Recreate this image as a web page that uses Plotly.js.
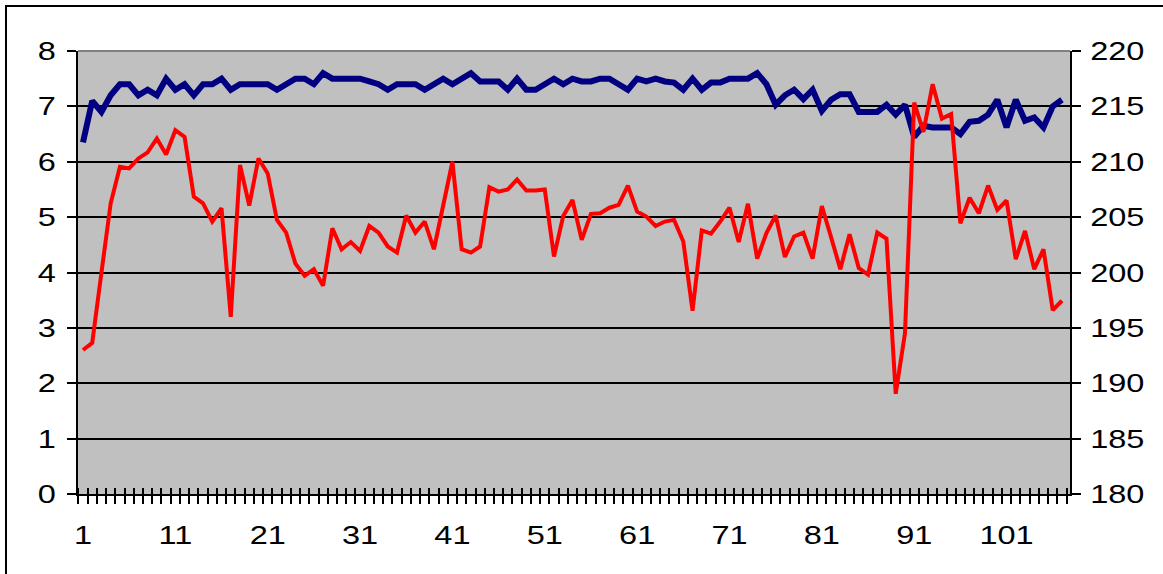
<!DOCTYPE html>
<html>
<head>
<meta charset="utf-8">
<script src="https://cdn.plot.ly/plotly-3.0.1.min.js"></script>
<style>
html,body{margin:0;padding:0;background:#fff;overflow:hidden;width:1163px;height:574px}
#frame{position:absolute;left:5px;top:5px;width:1300px;height:700px;border-left:2px solid #000;border-top:2px solid #000;box-sizing:border-box}
#chart{position:absolute;left:0;top:0;width:1163px;height:574px}
</style>
</head>
<body>
<div id="frame"></div>
<div id="chart"></div>
<script>
const categories = [1,2,3,4,5,6,7,8,9,10,11,12,13,14,15,16,17,18,19,20,
  21,22,23,24,25,26,27,28,29,30,31,32,33,34,35,36,37,38,39,40,
  41,42,43,44,45,46,47,48,49,50,51,52,53,54,55,56,57,58,59,60,
  61,62,63,64,65,66,67,68,69,70,71,72,73,74,75,76,77,78,79,80,
  81,82,83,84,85,86,87,88,89,90,91,92,93,94,95,96,97,98,99,100,
  101,102,103,104,105,106,107];

// blue series, left axis (0-8)
const blueValues = [6.35,7.1,6.9,7.2,7.4,7.4,7.2,7.3,7.2,7.5,
  7.3,7.4,7.2,7.4,7.4,7.5,7.3,7.4,7.4,7.4,
  7.4,7.3,7.4,7.5,7.5,7.4,7.6,7.5,7.5,7.5,
  7.5,7.45,7.4,7.3,7.4,7.4,7.4,7.3,7.4,7.5,
  7.4,7.5,7.6,7.45,7.45,7.45,7.3,7.5,7.3,7.3,
  7.4,7.5,7.4,7.5,7.45,7.45,7.5,7.5,7.4,7.3,
  7.5,7.45,7.5,7.45,7.43,7.3,7.5,7.3,7.43,7.43,
  7.5,7.5,7.5,7.6,7.4,7.03,7.2,7.3,7.13,7.3,
  6.92,7.12,7.22,7.22,6.9,6.9,6.9,7.03,6.85,7.03,
  6.45,6.65,6.62,6.62,6.62,6.5,6.72,6.74,6.85,7.12,
  6.62,7.12,6.74,6.8,6.62,7.0,7.12];

// red series, right axis (180-220)
const redValues = [193.0,193.65,200.0,206.25,209.55,209.4,210.3,210.85,212.1,210.65,
  212.85,212.25,206.85,206.25,204.6,205.8,196.0,209.7,206.05,210.3,
  208.95,204.75,203.6,200.8,199.7,200.3,198.8,204.0,202.1,202.75,
  201.95,204.2,203.6,202.35,201.8,205.15,203.6,204.6,202.1,206.0,
  210.0,202.1,201.8,202.35,207.7,207.3,207.5,208.4,207.4,207.4,
  207.5,201.45,205.1,206.55,202.95,205.3,205.35,205.85,206.1,207.85,
  205.5,205.05,204.2,204.6,204.75,202.8,196.55,203.8,203.5,204.6,
  205.85,202.75,206.2,201.25,203.55,205.15,201.4,203.25,203.6,201.25,
  206.0,203.2,200.3,203.45,200.4,199.8,203.6,203.05,189.05,194.5,
  215.35,212.7,217.0,213.9,214.3,204.45,206.75,205.35,207.85,205.65,
  206.5,201.2,203.75,200.3,202.1,196.6,197.45];

const xTickValues = [1,11,21,31,41,51,61,71,81,91,101];
const xTickLabels = ['1','11','21','31','41','51','61','71','81','91','101'];

const tickFont = {family:'"Liberation Sans", Arial, sans-serif', size:26, color:'#000'};
const xRange = [0.46, 107.87];

const traces = [
  {x:categories, y:blueValues, type:'scatter', mode:'lines', xaxis:'x', yaxis:'y',
   line:{color:'#000080', width:6}, hoverinfo:'skip'},
  {x:categories, y:redValues, type:'scatter', mode:'lines', xaxis:'x2', yaxis:'y2',
   line:{color:'#FF0000', width:4}, hoverinfo:'skip'}
];

const layout = {
  width:1163, height:574,
  margin:{l:78, r:93, t:51, b:80, pad:0},
  paper_bgcolor:'rgba(0,0,0,0)',
  plot_bgcolor:'#C0C0C0',
  showlegend:false,
  xaxis:{range:xRange, tickmode:'array', tickvals:xTickValues, ticktext:xTickLabels,
    ticks:'', showline:true, linecolor:'#000', linewidth:2, showgrid:false, zeroline:false,
    tickfont:tickFont, ticklabelstandoff:17, automargin:false, fixedrange:true,
    minor:{tickmode:'linear', tick0:0.5, dtick:1, ticks:'outside', ticklen:8, tickwidth:2, tickcolor:'#000', showgrid:false}},
  xaxis2:{range:xRange, overlaying:'x', anchor:'y', side:'bottom', showticklabels:false,
    ticks:'', showline:false, showgrid:false, zeroline:false, automargin:false, fixedrange:true,
    minor:{tickmode:'linear', tick0:0.5, dtick:1, ticks:'inside', ticklen:6, tickwidth:2, tickcolor:'#000', showgrid:false}},
  yaxis:{range:[0,8], tickmode:'linear', tick0:0, dtick:1, ticks:'outside', ticklen:9, tickwidth:2, tickcolor:'#000',
    showline:true, linecolor:'#000', linewidth:2, showgrid:true, gridcolor:'#000', gridwidth:2,
    zeroline:false, tickfont:tickFont, ticklabelstandoff:6, automargin:false, fixedrange:true},
  yaxis2:{range:[180,220], overlaying:'y', side:'right', anchor:'x', tickmode:'linear', tick0:180, dtick:5,
    ticks:'outside', ticklen:9, tickwidth:2, tickcolor:'#000', showline:true, linecolor:'#000', linewidth:2,
    showgrid:false, zeroline:false, tickfont:tickFont, ticklabelstandoff:4, automargin:false, fixedrange:true},
  shapes:[{type:'line', xref:'paper', yref:'paper', x0:0, x1:1, y0:1, y1:1, line:{color:'#808080', width:2}, layer:'above'}]
};

Plotly.newPlot('chart', traces, layout, {staticPlot:true, displayModeBar:false}).then(function(gd){
  // the reference uses horizontally stretched tick label glyphs
  const stretch = 1.25;
  gd.querySelectorAll('.xtick text, .ytick text, .y2tick text').forEach(function(t){
    const w = t.getComputedTextLength();
    if (w > 0) {
      t.setAttribute('textLength', (w * stretch).toFixed(2));
      t.setAttribute('lengthAdjust', 'spacingAndGlyphs');
    }
  });
});
</script>
</body>
</html>
